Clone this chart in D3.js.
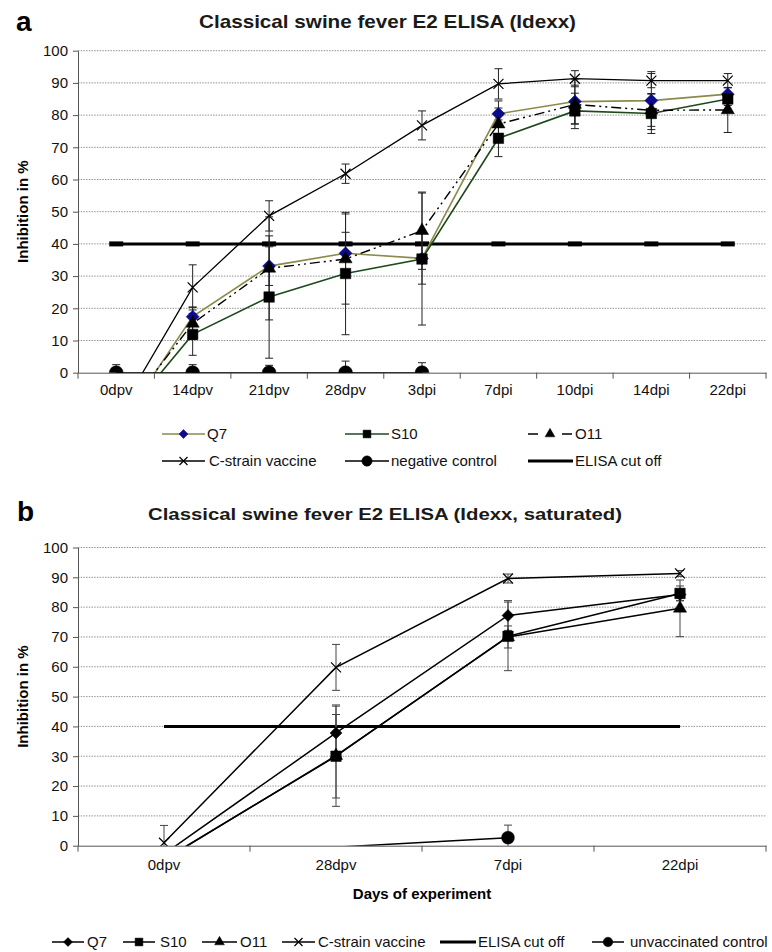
<!doctype html>
<html>
<head>
<meta charset="utf-8">
<title>CSF E2 ELISA</title>
<script src="https://d3js.org/d3.v7.min.js"></script>
<style>
  html, body { margin: 0; background: #fff; }
  svg { display: block; font-family: "Liberation Sans", Arial, sans-serif; }
  .grid line { stroke: #777; stroke-width: 0.8; stroke-dasharray: 1.5,1.2; }
  .axis path, .axis line { stroke: #555; }
  .axis text { font-size: 15px; fill: #111; }
</style>
</head>
<body>
<svg id="chart" width="772" height="952"></svg>
<script>
// ---- panel a: Idexx ----
var catsA = ["0dpv", "14dpv", "21dpv", "28dpv", "3dpi", "7dpi", "10dpi", "14dpi", "22dpi"];
var q7A      = [-17.9, 17.4, 33.1, 37.1, 35.5, 80.4, 84.2, 84.5, 86.5];
var q7ErrA   = [0, 3, 6, 6.5, 8, 4, 7, 9, 2];
var s10A     = [-16.8, 11.9, 23.5, 30.8, 35.3, 72.8, 81.3, 80.5, 85];
var s10ErrA  = [0, 6.5, 19, 19, 20.5, 5.7, 5.5, 6.2, 2];
var o11A     = [-15.3, 15.3, 32.4, 35.3, 44.1, 77.2, 83.3, 81.5, 81.6];
var o11ErrA  = [0, 5, 16, 14, 12, 5, 6, 5, 7];
var cStrA    = [-14, 26.5, 48.7, 61.8, 76.8, 89.7, 91.3, 90.7, 90.7];
var cStrErrA = [0, 7, 4.7, 3, 4.5, 4.7, 2.5, 2.2, 2.2];
var negA     = [0, 0, 0, 0, 0, null, null, null, null];
var negErrA  = [2.5, 2.5, 2.3, 3.6, 3.1, 0, 0, 0, 0];

// ---- panel b: Idexx, saturated ----
var catsB = ["0dpv", "28dpv", "7dpi", "22dpi"];
var q7B      = [-2.8, 37.8, 77.2, 84.2];
var q7ErrB   = [0, 9, 5, 2];
var s10B     = [-4.6, 30, 70.2, 84.6];
var s10ErrB  = [0, 14, 11.5, 2.5];
var o11B     = [-4.8, 30.2, 70, 79.6];
var o11ErrB  = [0, 17, 3.7, 9.5];
var cStrB    = [1, 59.8, 89.6, 91.3];
var cStrErrB = [5.8, 7.7, 1.5, 1];
var unvacB   = [-2, -0.5, 2.7, null];
var unvacErrB = [0, 0, 4.2, 0];

var cutOff = 40;
var yTicks = [0, 10, 20, 30, 40, 50, 60, 70, 80, 90, 100];

var svg = d3.select("#chart");

function sym(type, size) {
  return d3.symbol().type(type).size(size)();
}

function drawPanel(p) {
  var g = svg.append("g");
  var x = d3.scaleBand().domain(p.cats).range([78, 766]);
  var y = d3.scaleLinear().domain([0, 100]).range([p.y0, p.y100]);
  var cx = function(i) { return x(p.cats[i]) + x.bandwidth() / 2; };

  // grid
  g.append("g").attr("class", "grid")
    .selectAll("line").data(yTicks.slice(1)).join("line")
    .attr("x1", 78).attr("x2", 766)
    .attr("y1", function(d) { return y(d); }).attr("y2", function(d) { return y(d); });

  // axes
  g.append("g").attr("class", "axis")
    .attr("transform", "translate(78,0)")
    .call(d3.axisLeft(y).tickValues(yTicks).tickSize(5).tickSizeOuter(0).tickPadding(5));
  var xa = g.append("g").attr("class", "axis")
    .attr("transform", "translate(0," + p.y0 + ")")
    .call(d3.axisBottom(x).tickSize(0).tickPadding(p.xPad));
  xa.selectAll(".bt").data(d3.range(p.cats.length + 1)).join("line")
    .attr("x1", function(i) { return 78 + i * x.bandwidth(); })
    .attr("x2", function(i) { return 78 + i * x.bandwidth(); })
    .attr("y1", 0).attr("y2", 6).attr("stroke", "#555");

  var clipId = "clip" + p.id;
  g.append("clipPath").attr("id", clipId).append("rect")
    .attr("x", 78).attr("y", p.y100 - 8).attr("width", 700).attr("height", p.y0 - p.y100 + 8);
  var plot = g.append("g").attr("clip-path", "url(#" + clipId + ")");

  // cut off line
  plot.append("line")
    .attr("x1", cx(0)).attr("x2", cx(p.cats.length - 1))
    .attr("y1", y(cutOff)).attr("y2", y(cutOff))
    .attr("stroke", "#000").attr("stroke-width", 3);
  if (p.cutMarks) {
    plot.selectAll(".cm").data(d3.range(p.cats.length)).join("rect")
      .attr("x", function(i) { return cx(i) - 7; }).attr("y", y(cutOff) - 2.5)
      .attr("width", 14).attr("height", 5).attr("fill", "#000");
  }

  // error bars
  p.series.forEach(function(s) {
    s.vals.forEach(function(v, i) {
      if (v == null || !s.err[i]) return;
      var eg = plot.append("g").attr("stroke", p.errColor).attr("stroke-width", 1);
      var top = y(v + s.err[i]), bot = y(v - s.err[i]);
      eg.append("line").attr("x1", cx(i)).attr("x2", cx(i)).attr("y1", top).attr("y2", bot);
      [top, bot].forEach(function(yy) {
        eg.append("line").attr("x1", cx(i) - 4).attr("x2", cx(i) + 4).attr("y1", yy).attr("y2", yy);
      });
    });
  });

  // lines
  p.series.forEach(function(s) {
    var line = d3.line()
      .defined(function(d) { return d != null; })
      .x(function(d, i) { return cx(i); })
      .y(function(d) { return y(d); });
    plot.append("path").datum(s.vals)
      .attr("d", line).attr("fill", "none")
      .attr("stroke", s.color).attr("stroke-width", s.width)
      .attr("stroke-dasharray", s.dash || null);
  });

  // markers (hidden below axis minimum)
  p.series.forEach(function(s) {
    s.vals.forEach(function(v, i) {
      if (v == null || v < 0) return;
      drawMarker(plot, s, cx(i), y(v));
    });
  });

  // texts
  svg.append("text").attr("x", p.letterX).attr("y", p.letterY)
    .attr("font-size", 28).attr("font-weight", "bold").text(p.letter);
  svg.append("text").attr("x", p.titleX).attr("y", p.titleY)
    .attr("font-size", p.titleSize).attr("font-weight", "bold").attr("fill", "#1a1a1a")
    .attr("textLength", p.titleLen).attr("lengthAdjust", "spacingAndGlyphs")
    .text(p.title);
  svg.append("text")
    .attr("transform", "translate(28," + ((p.y0 + p.y100) / 2) + ") rotate(-90)")
    .attr("text-anchor", "middle").attr("font-size", 15).attr("font-weight", "bold")
    .text("Inhibition in %");
}

function drawMarker(g, s, px, py) {
  if (s.marker === "x") {
    var r = s.msize;
    g.append("path")
      .attr("d", "M" + (px - r) + "," + (py - r) + "L" + (px + r) + "," + (py + r) +
                 "M" + (px - r) + "," + (py + r) + "L" + (px + r) + "," + (py - r))
      .attr("stroke", s.mcolor).attr("stroke-width", 1.2);
  } else {
    var t = { square: d3.symbolSquare, triangle: d3.symbolTriangle, circle: d3.symbolCircle }[s.marker];
    var path = s.marker === "diamond"
      ? "M0," + (-s.msize) + "L" + s.msize + ",0L0," + s.msize + "L" + (-s.msize) + ",0Z"
      : sym(t, s.msize);
    g.append("path").attr("d", path)
      .attr("transform", "translate(" + px + "," + py + ")")
      .attr("fill", s.mcolor).attr("stroke", s.mcolor).attr("stroke-width", 0.5);
  }
}

var seriesA = [
  { name: "Q7", vals: q7A, err: q7ErrA, color: "#8a8a4a", width: 1.6, marker: "diamond", msize: 6.5, mcolor: "#0b0b8c" },
  { name: "S10", vals: s10A, err: s10ErrA, color: "#1d4a1d", width: 1.6, marker: "square", msize: 110, mcolor: "#000" },
  { name: "O11", vals: o11A, err: o11ErrA, color: "#000", width: 1.4, dash: "10,4,2,4,2,4", legendDash: "10,24", marker: "triangle", msize: 75, mcolor: "#000" },
  { name: "C-strain vaccine", vals: cStrA, err: cStrErrA, color: "#000", width: 1.3, marker: "x", msize: 5, mcolor: "#000" },
  { name: "negative control", vals: negA, err: negErrA, color: "#000", width: 1.3, marker: "circle", msize: 150, mcolor: "#000" }
];

var seriesB = [
  { name: "Q7", vals: q7B, err: q7ErrB, color: "#000", width: 1.5, marker: "diamond", msize: 6, mcolor: "#000" },
  { name: "S10", vals: s10B, err: s10ErrB, color: "#000", width: 1.5, marker: "square", msize: 110, mcolor: "#000" },
  { name: "O11", vals: o11B, err: o11ErrB, color: "#000", width: 1.5, marker: "triangle", msize: 75, mcolor: "#000" },
  { name: "C-strain vaccine", vals: cStrB, err: cStrErrB, color: "#000", width: 1.5, marker: "x", msize: 5, mcolor: "#000" },
  { name: "unvaccinated control", vals: unvacB, err: unvacErrB, color: "#000", width: 1.5, marker: "circle", msize: 130, mcolor: "#000" }
];

drawPanel({ id: "a", cats: catsA, y0: 372.7, y100: 50.7, series: seriesA, errColor: "#222",
  cutMarks: true, xPad: 12,
  letter: "a", letterX: 16, letterY: 31, title: "Classical swine fever E2 ELISA (Idexx)",
  titleX: 199, titleY: 28, titleSize: 18.5, titleLen: 377 });

drawPanel({ id: "b", cats: catsB, y0: 845.7, y100: 547.5, series: seriesB, errColor: "#444",
  cutMarks: false, xPad: 14,
  letter: "b", letterX: 17, letterY: 521, title: "Classical swine fever E2 ELISA (Idexx, saturated)",
  titleX: 148, titleY: 520, titleSize: 17, titleLen: 474 });

svg.append("text").attr("x", 422).attr("y", 899).attr("text-anchor", "middle")
  .attr("font-size", 15).attr("font-weight", "bold").text("Days of experiment");

// ---- legends ----
function legendItem(s, x0, x1, yy, textX) {
  var lg = svg.append("g");
  if (s === "cut") {
    lg.append("line").attr("x1", x0).attr("x2", x1).attr("y1", yy).attr("y2", yy)
      .attr("stroke", "#000").attr("stroke-width", 3);
  } else {
    lg.append("line").attr("x1", x0).attr("x2", x1).attr("y1", yy).attr("y2", yy)
      .attr("stroke", s.color).attr("stroke-width", s.width).attr("stroke-dasharray", s.legendDash || null);
    var ms = Object.assign({}, s);
    if (s.marker === "diamond") ms.msize = 4.5;
    else if (s.marker === "x") ms.msize = 4;
    else ms.msize = s.msize * 0.55;
    drawMarker(lg, ms, (x0 + x1) / 2, yy);
  }
  svg.append("text").attr("x", textX).attr("y", yy + 5).attr("font-size", 15).attr("fill", "#111")
    .text(s === "cut" ? "ELISA cut off" : s.name);
}

legendItem(seriesA[0], 162, 205, 434, 207);
legendItem(seriesA[1], 345, 389, 434, 391);
legendItem(seriesA[2], 528, 572, 434, 575);
legendItem(seriesA[3], 162, 205, 461, 209);
legendItem(seriesA[4], 345, 389, 461, 391);
legendItem("cut", 528, 573, 461, 575);

legendItem(seriesB[0], 52, 84, 942, 87);
legendItem(seriesB[1], 123, 155, 942, 160);
legendItem(seriesB[2], 202, 237, 942, 240);
legendItem(seriesB[3], 282, 315, 942, 318);
legendItem("cut", 440, 476, 942, 478);
legendItem(seriesB[4], 592, 624, 942, 630);
</script>
</body>
</html>
